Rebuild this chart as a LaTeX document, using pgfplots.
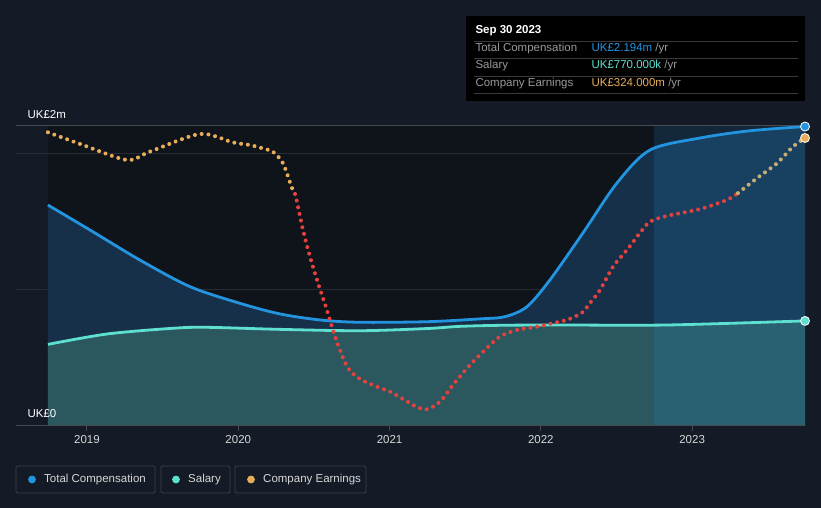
\documentclass[border=0pt]{standalone}
\usepackage{fontspec}
\setmainfont{Liberation Sans}
\usepackage{pgfplots}
\pgfplotsset{compat=1.18}

\definecolor{bg}{HTML}{151B26}
\definecolor{plotbg}{HTML}{0F131A}
\definecolor{gridc}{HTML}{262B35}
\definecolor{topline}{HTML}{454A53}
\definecolor{comp}{HTML}{2394DF}
\definecolor{sal}{HTML}{5DE0CF}
\definecolor{earn}{HTML}{E9AD5A}
\definecolor{earnhi}{HTML}{C9AD72}
\definecolor{loss}{HTML}{E5413E}
\definecolor{txt}{HTML}{D6D6D6}
\definecolor{lbox}{HTML}{3C424C}
\definecolor{compfill}{HTML}{173049}
\definecolor{salfill}{HTML}{2B585F}

% compensation, UK£m
\pgfplotstableread{
year val
2018.742 1.619
2019.020 1.436
2019.350 1.216
2019.681 1.021
2020.011 0.899
2020.276 0.821
2020.540 0.777
2020.800 0.760
2021.247 0.764
2021.600 0.785
2021.763 0.801
2021.908 0.874
2022.060 1.070
2022.278 1.414
2022.503 1.780
2022.721 2.022
2023.052 2.110
2023.382 2.163
2023.746 2.194
}\comp

\pgfplotstableread{
year val
2018.742 0.598
2019.132 0.674
2019.568 0.716
2019.793 0.723
2020.276 0.708
2020.804 0.698
2021.247 0.714
2021.465 0.730
2021.750 0.738
2022.126 0.740
2022.833 0.740
2023.746 0.770
}\salary

% company earnings, UK£m
\pgfplotstableread{
year val
2018.742 330.4
2018.974 316.1
2019.264 299.3
2019.416 308.6
2019.747 328.5
2019.965 319.0
2020.077 316.1
2020.190 311.0
2020.229 308.6
2020.295 295.9
2020.355 267.8
2020.375 261.0
}\earnA

\pgfplotstableread{
year val
2020.375 261.0
2020.388 252.3
2020.428 220.5
2020.474 190.5
2020.527 160.9
2020.586 130.5
2020.626 108.0
2020.672 85.5
2020.725 65.3
2020.804 52.9
2020.917 44.2
2021.003 38.6
2021.089 30.4
2021.181 21.4
2021.247 18.8
2021.333 27.3
2021.419 46.1
2021.531 68.6
2021.644 87.8
2021.730 100.7
2021.842 108.0
2021.974 111.7
2022.106 116.7
2022.173 119.3
2022.272 127.5
2022.325 138.4
2022.391 153.0
2022.477 179.2
2022.569 198.0
2022.655 217.1
2022.721 229.8
2022.833 236.3
2023.052 244.1
2023.230 254.3
2023.303 262.0
}\earnB

\pgfplotstableread{
year val
2023.303 262.0
2023.428 278.7
2023.560 295.5
2023.666 314.2
2023.746 324.0
}\earnC

\pgfplotsset{
  base/.style={
    at={(16pt,82pt)}, anchor=south west,
    width=789pt, height=300pt, scale only axis,
    clip=false, xmin=2018.531, xmax=2023.746,
  },
  dots/.style={smooth, line width=4pt, line cap=round, dash pattern=on 0.01pt off 6.8pt},
}

\begin{document}
\begin{tikzpicture}
\begin{scope}[x=1pt,y=1pt]
\fill[bg] (0,0) rectangle (821,508);
\path[use as bounding box] (0,0) rectangle (821,508);
% darker plotting area, from the first data point to the last
\fill[plotbg] (48,82) rectangle (805,382);
\end{scope}

\begin{axis}[
  base,
  ymin=0, ymax=2.198,
  axis line style={draw=none},
  xtick={2019,2020,2021,2022,2023},
  xticklabels={2019,2020,2021,2022,2023},
  xtick pos=bottom,
  ytick={1,2}, yticklabels={},
  ymajorgrids, major grid style={gridc, line width=1pt},
  tick align=outside, major tick length=5pt,
  xtick style={draw=topline, line width=1pt},
  ytick style={draw=none},
  xticklabel style={text=txt, font=\fontsize{11.5}{13}\selectfont, yshift=-1pt},
]
\addplot[smooth, draw=none, fill=compfill] table[x=year,y=val] {\comp} \closedcycle;
\addplot[smooth, draw=none, fill=salfill] table[x=year,y=val] {\salary} \closedcycle;
\fill[comp, fill opacity=0.16] (axis cs:2022.75,0) rectangle (axis cs:2023.746,2.198);

\draw[topline, line width=1pt] (rel axis cs:0,1) -- (rel axis cs:1,1);
\draw[topline, line width=1pt] (rel axis cs:0,0) -- (rel axis cs:1,0);

\addplot[smooth, comp, line width=2.8pt] table[x=year,y=val] {\comp};
\addplot[smooth, sal, line width=2.8pt] table[x=year,y=val] {\salary};

\node[anchor=west, text=white, font=\fontsize{11.5}{13}\selectfont] at (axis cs:2018.584,2.28) {UK£2m};
\node[anchor=west, text=white, font=\fontsize{11.5}{13}\selectfont] at (axis cs:2018.584,0.09) {UK£0};
\end{axis}

\begin{axis}[base, ymin=0, ymax=337.5, hide axis]
\addplot[dots, earn] table[x=year,y=val] {\earnA};
\addplot[dots, loss] table[x=year,y=val] {\earnB};
\addplot[dots, earnhi] table[x=year,y=val] {\earnC};
\addplot[only marks, mark=*, mark size=4.5pt, mark options={fill=earn, draw=white, line width=0.8pt}] coordinates {(2023.746,324.0)};
\end{axis}

\begin{axis}[base, ymin=0, ymax=2.198, hide axis]
\addplot[only marks, mark=*, mark size=4.5pt, mark options={fill=comp, draw=white, line width=0.8pt}] coordinates {(2023.746,2.194)};
\addplot[only marks, mark=*, mark size=4.5pt, mark options={fill=sal, draw=white, line width=0.8pt}] coordinates {(2023.746,0.770)};
\end{axis}

\begin{scope}[x=1pt,y=1pt]
% tooltip
\fill[black] (466,407) rectangle (805,492);
\node[anchor=west, text=white, font=\bfseries\fontsize{11.5}{13}\selectfont] at (472,477) {Sep 30 2023};
\foreach \yy in {467,450,432,415} {\draw[gray!45!black, line width=0.8pt] (474,\yy) -- (798,\yy);}
\node[anchor=west, text=gray!80, font=\fontsize{11.5}{13}\selectfont] at (472,459) {Total Compensation};
\node[anchor=west, text=gray!80, font=\fontsize{11.5}{13}\selectfont] at (472,442) {Salary};
\node[anchor=west, text=gray!80, font=\fontsize{11.5}{13}\selectfont] at (472,424) {Company Earnings};
\node[anchor=west, font=\fontsize{11.5}{13}\selectfont] at (588,459) {\textcolor{comp}{UK£2.194m} \textcolor{gray!80}{/yr}};
\node[anchor=west, font=\fontsize{11.5}{13}\selectfont] at (588,442) {\textcolor{sal}{UK£770.000k} \textcolor{gray!80}{/yr}};
\node[anchor=west, font=\fontsize{11.5}{13}\selectfont] at (588,424) {\textcolor{earn}{UK£324.000m} \textcolor{gray!80}{/yr}};

% legend
\draw[lbox, line width=0.8pt, rounded corners=1.5pt] (16,15) rectangle (155,42);
\draw[lbox, line width=0.8pt, rounded corners=1.5pt] (161,15) rectangle (230,42);
\draw[lbox, line width=0.8pt, rounded corners=1.5pt] (235,15) rectangle (366,42);
\fill[comp] (32,28.5) circle (3.9);
\fill[sal] (176,28.5) circle (3.9);
\fill[earn] (251,28.5) circle (3.9);
\node[anchor=west, text=txt, font=\fontsize{11.5}{13}\selectfont, inner sep=0pt] at (44,28.5) {Total Compensation};
\node[anchor=west, text=txt, font=\fontsize{11.5}{13}\selectfont, inner sep=0pt] at (188,28.5) {Salary};
\node[anchor=west, text=txt, font=\fontsize{11.5}{13}\selectfont, inner sep=0pt] at (263,28.5) {Company Earnings};
\end{scope}
\end{tikzpicture}
\end{document}
